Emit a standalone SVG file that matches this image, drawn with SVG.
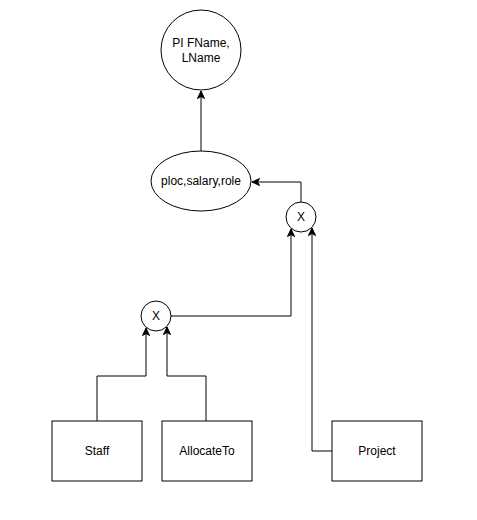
<svg xmlns="http://www.w3.org/2000/svg" width="477" height="520" viewBox="0 0 477 520">
<style>
.n{fill:#fff;stroke:#000;stroke-width:1}
.t{font-family:"Liberation Sans",Arial,sans-serif;font-size:12px;fill:#000;text-anchor:middle}
.c{fill:none;stroke:#000;stroke-width:1}
</style>
<defs>
<marker id="a" markerUnits="userSpaceOnUse" markerWidth="10" markerHeight="10" refX="8" refY="4" orient="auto">
<path d="M0.5,0.5 L8,4 L0.5,7.5 L2.5,4 Z" fill="#000" stroke="#000" stroke-width="1"/>
</marker>
</defs>
<rect width="477" height="520" fill="#fff"/>
<g id="connectors">
<path class="c" d="M201,151 L201,91" marker-end="url(#a)"/>
<path class="c" d="M301,202 L301,182 L252,182" marker-end="url(#a)"/>
<path class="c" d="M171,316 L291,316 L291,229" marker-end="url(#a)"/>
<path class="c" d="M332,451 L312,451 L312,228" marker-end="url(#a)"/>
<path class="c" d="M97,421 L97,376 L146,376 L146,328" marker-end="url(#a)"/>
<path class="c" d="M206,421 L206,376 L167,376 L167,327" marker-end="url(#a)"/>
</g>
<g id="pi">
<circle class="n" cx="201" cy="50" r="40"/>
<text class="t" x="201" y="47">PI FName,</text>
<text class="t" x="201" y="62">LName</text>
</g>
<g id="sigma">
<ellipse class="n" cx="201" cy="181" rx="50" ry="30"/>
<text class="t" x="201" y="185">ploc,salary,role</text>
</g>
<g id="x1">
<circle class="n" cx="301" cy="217" r="15"/>
<text class="t" x="301" y="221">X</text>
</g>
<g id="x2">
<circle class="n" cx="156" cy="316" r="15"/>
<text class="t" x="156" y="320">X</text>
</g>
<g id="staff">
<rect class="n" x="52" y="421" width="90" height="60"/>
<text class="t" x="97" y="455">Staff</text>
</g>
<g id="allocateto">
<rect class="n" x="162" y="421" width="90" height="60"/>
<text class="t" x="207" y="455">AllocateTo</text>
</g>
<g id="project">
<rect class="n" x="332" y="421" width="90" height="60"/>
<text class="t" x="377" y="455">Project</text>
</g>
</svg>
